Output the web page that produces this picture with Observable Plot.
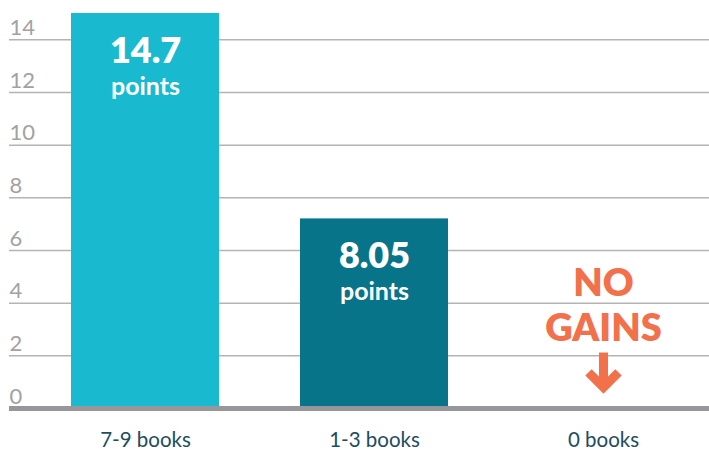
<!DOCTYPE html>
<html>
<head>
<meta charset="utf-8">
<script src="https://cdn.jsdelivr.net/npm/d3@7"></script>
<script src="https://cdn.jsdelivr.net/npm/@observablehq/plot@0.6"></script>
<style>
  html, body { margin: 0; padding: 0; background: #ffffff; }
  #chart svg { display: block; }
</style>
</head>
<body>
<div id="chart"></div>
<script>
// ---- data ----
const categories = ["7-9 books", "1-3 books", "0 books"];
const values = [15.0, 7.2, 0];           // bar heights as drawn
const valueLabels = ["14.7", "8.05", null];
const unitLabels = ["points", "points", null];
const barColors = ["#19BAD0", "#087489", "#ffffff"];
const yTicks = [0, 2, 4, 6, 8, 10, 12, 14];
const noGainsCategory = "0 books";
const noGainsText = "NO\nGAINS";

const bars = categories.map((c, i) => ({
  category: c, value: values[i], label: valueLabels[i], unit: unitLabels[i], color: barColors[i]
}));
const labelled = bars.filter(d => d.label);

const font = "Lato, 'Open Sans', sans-serif";

// down-pointing arrow shape (drawn in local vector coordinates)
const arrowShape = {
  draw(context, l) {
    const w = 15;
    context.moveTo(0, 0);
    context.lineTo(0, -l);
    context.moveTo(-w, w - l);
    context.lineTo(0, -l);
    context.lineTo(w, w - l);
  }
};

const chart = Plot.plot({
  width: 709,
  height: 450,
  marginTop: 13,
  marginBottom: 42,
  marginLeft: 9,
  marginRight: 0,
  style: { fontFamily: font, background: "#ffffff" },
  x: { domain: categories, range: [70, 677], paddingInner: 0.355, paddingOuter: 0, axis: null, label: null },
  y: { domain: [0, 15], axis: null },
  marks: [
    Plot.ruleY(yTicks.filter(t => t > 0), { stroke: "#b4b4b4", strokeWidth: 1.5 }),
    Plot.text(yTicks, {
      y: d => d, text: d => String(d), frameAnchor: "left", textAnchor: "start",
      lineAnchor: "bottom", dy: -5, fill: "#a2a2a2", fontSize: 22
    }),
    Plot.barY(bars.filter(d => d.value > 0), {
      x: "category", y: "value", fill: "color"
    }),
    Plot.ruleY([0], { stroke: "#97979b", strokeWidth: 5 }),
    Plot.text(labelled, {
      x: "category", y: "value", text: "label", fill: "#ffffff",
      fontSize: 36, fontWeight: 800, dy: 38
    }),
    Plot.text(labelled, {
      x: "category", y: "value", text: "unit", fill: "#ffffff",
      fontSize: 25, fontWeight: 700, dy: 73
    }),
    Plot.text([noGainsCategory], {
      x: d => d, y: [3.95], text: [noGainsText], fill: "#F2704A",
      fontSize: 38, fontWeight: 800, lineHeight: 1.18
    }),
    Plot.vector([noGainsCategory], {
      x: d => d, y: [0.8], anchor: "end", rotate: 180, length: 35,
      shape: arrowShape, stroke: "#F2704A", strokeWidth: 9,
      strokeLinejoin: "miter", strokeLinecap: "butt"
    }),
    Plot.axisX({
      label: null, tickSize: 0, tickPadding: 24, fontSize: 20.5,
      fill: "#1d4d5e", fontFamily: font
    })
  ]
});
document.getElementById("chart").appendChild(chart);
</script>
</body>
</html>
